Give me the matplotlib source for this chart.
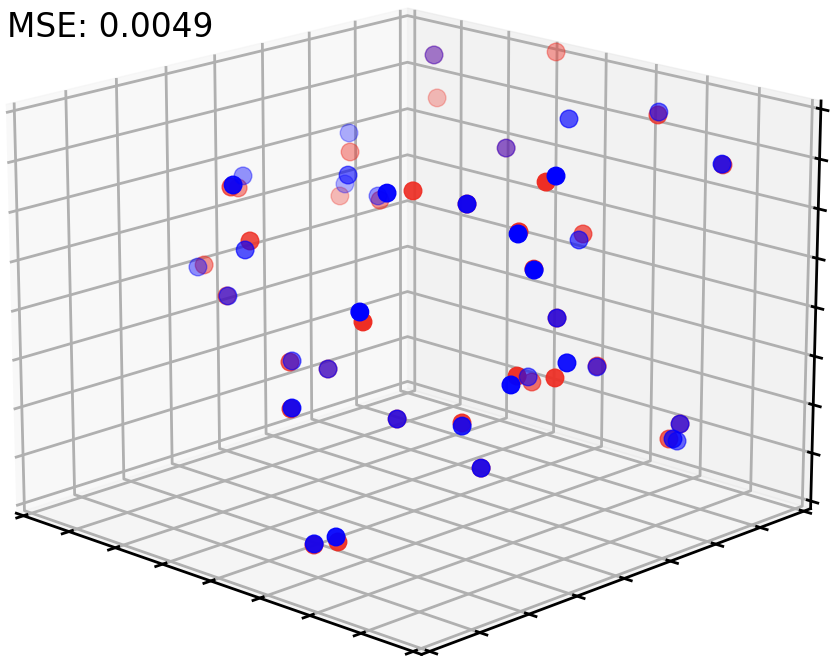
import numpy as np
import matplotlib
matplotlib.use('Agg')
import matplotlib.pyplot as plt

plt.rcParams['axes.linewidth'] = 2
plt.rcParams['xtick.major.width'] = 2
plt.rcParams['ytick.major.width'] = 2
plt.rcParams['grid.linewidth'] = 2

# red = true points, blue = predicted
rx = [-0.759,-1.038,-0.275,-0.832,-0.441,0.534,-0.008,-0.865,-0.583,0.666,-0.805,-0.252,-0.878,0.748,1.039,-0.335,1.018,0.678,0.908,0.576,1.039,0.656,0.003,-0.261,0.300,0.319,0.454,0.638,1.039,0.466,1.038,0.794,0.819,0.738,0.883,1.038]
ry = [0.436,0.660,-0.655,-0.085,0.274,-0.558,-0.821,-0.234,-0.387,-0.940,0.945,1.037,1.039,0.480,0.500,0.851,-0.406,-0.438,-0.421,0.278,-0.487,0.055,-0.640,-0.185,-0.928,-0.417,-0.972,-1.038,-0.568,0.132,-0.374,0.118,-0.609,-0.425,0.473,0.233]
rz = [0.492,0.128,0.723,0.423,0.365,0.887,0.574,0.056,0.018,0.405,0.866,0.987,0.597,1.040,0.862,0.511,1.013,0.829,0.752,0.460,0.629,0.127,-0.073,-0.325,-0.126,-0.332,-0.731,-0.632,0.143,-0.273,0.074,-0.091,-0.137,-0.443,-0.467,-0.418]
bx = [-1.037,-0.353,-1.040,0.082,-1.039,0.555,-0.648,-0.378,-1.039,-0.580,0.651,-0.805,0.369,0.423,1.039,-0.335,1.038,0.678,0.985,0.398,1.040,0.656,-0.362,-0.261,0.302,0.319,0.454,0.630,0.995,0.275,1.038,0.539,0.660,0.738,0.883,1.039,0.717]
by = [0.711,0.016,0.690,-0.986,0.140,-0.708,0.474,-0.489,-0.102,-0.385,-0.940,0.945,0.426,0.859,0.495,0.851,-0.378,-0.438,-0.509,0.455,-0.487,0.055,-0.271,-0.185,-0.925,-0.417,-0.971,-1.039,-0.551,0.320,-0.313,0.403,-0.440,-0.425,0.473,0.254,0.651]
bz = [0.453,0.585,0.184,0.913,0.373,0.922,0.279,0.337,-0.040,0.018,0.448,0.866,0.942,0.881,0.867,0.511,1.039,0.829,0.787,0.333,0.625,0.127,-0.287,-0.325,-0.122,-0.332,-0.726,-0.610,0.082,-0.362,0.128,-0.258,-0.255,-0.443,-0.467,-0.424,-0.663]
ticks = np.arange(-1, 1.01, .25)

LIM = 1.04
fig = plt.figure(figsize=(8.3, 6.56), dpi=100)
ax = fig.add_axes([-0.1556, -0.164, 1.28, 1.348], projection='3d')
ax.view_init(elev=17, azim=-46)
ax.set_xlim(-LIM, LIM)
ax.set_ylim(-LIM, LIM)
ax.set_zlim(-LIM, LIM)
ax.set_xticks(ticks)
ax.set_yticks(ticks)
ax.set_zticks(ticks)
ax.set_xticklabels([])
ax.set_yticklabels([])
ax.set_zticklabels([])

ax.computed_zorder = False
ax.scatter(rx, ry, rz, c='#ee2e24', s=160, zorder=3)
ax.scatter(bx, by, bz, c='#0000ff', s=160, zorder=4)

fig.text(0.008, 0.958, 'MSE: 0.0049', fontsize=23.7, va='center')
fig.savefig('out.png', dpi=100)
